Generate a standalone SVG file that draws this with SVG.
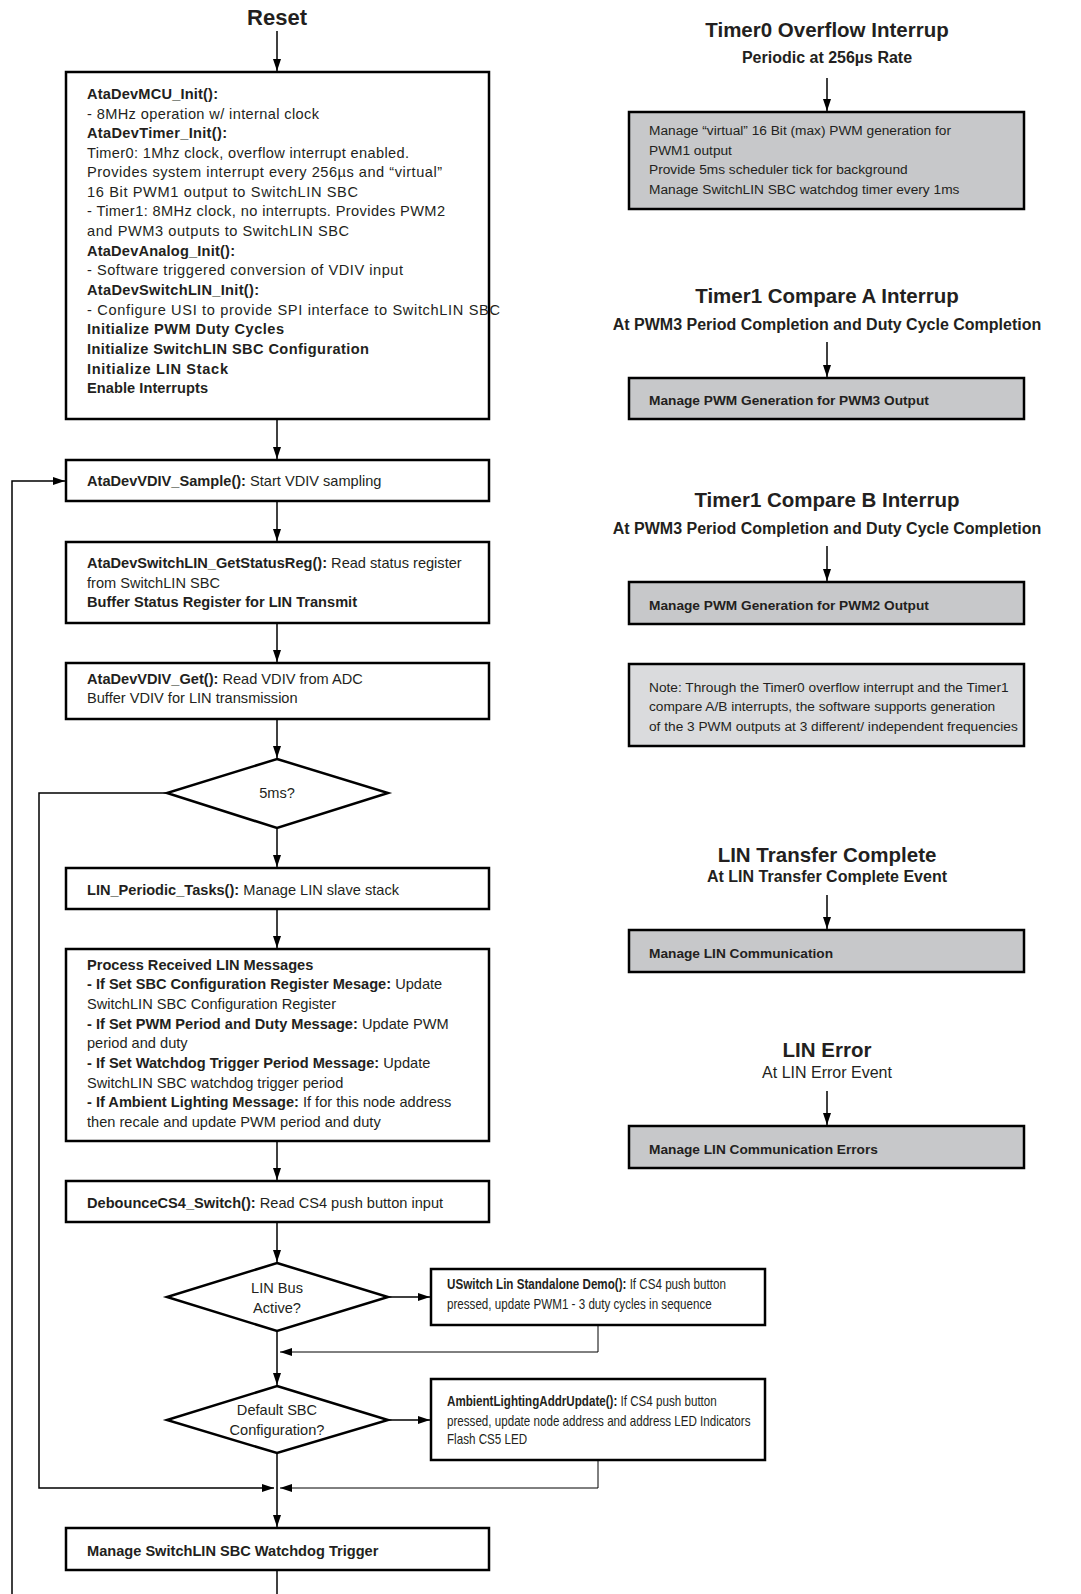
<svg xmlns="http://www.w3.org/2000/svg" width="1081" height="1594" viewBox="0 0 1081 1594">
<style>
text{font-family:"Liberation Sans",Arial,sans-serif;fill:#231f20}
.t{font-size:14.6px}
.r{font-size:13.7px}
.n{font-size:14px}
.b{font-weight:bold}
.h1{font-size:20.5px;font-weight:bold;text-anchor:middle}
.h2{font-size:16px;font-weight:bold;text-anchor:middle}
.box{fill:#fff;stroke:#000;stroke-width:2.5}
.gbox{fill:#c7c8ca;stroke:#000;stroke-width:2.5}
.nbox{fill:#dadbdd;stroke:#000;stroke-width:2.5}
.dia{fill:#fff;stroke:#000;stroke-width:2.5}
.c{fill:none;stroke:#000;stroke-width:1.5}
.c2{fill:none;stroke:#000;stroke-width:1}
</style>
<defs>
<marker id="ah" viewBox="0 0 12 8" refX="12" refY="4" markerWidth="12" markerHeight="8" markerUnits="userSpaceOnUse" orient="auto">
<path d="M0,0 L12,4 L0,8 z" fill="#000"/>
</marker>
</defs>
<rect width="1081" height="1594" fill="#fff"/>

<g id="connectors">
<path class="c" d="M277,31 V71" marker-end="url(#ah)"/>
<path class="c" d="M277,420 V459" marker-end="url(#ah)"/>
<path class="c" d="M277,502 V541" marker-end="url(#ah)"/>
<path class="c" d="M277,624 V662" marker-end="url(#ah)"/>
<path class="c" d="M277,720 V758" marker-end="url(#ah)"/>
<path class="c" d="M277,829 V867" marker-end="url(#ah)"/>
<path class="c" d="M277,910 V948" marker-end="url(#ah)"/>
<path class="c" d="M277,1142 V1180" marker-end="url(#ah)"/>
<path class="c" d="M277,1223 V1262" marker-end="url(#ah)"/>
<path class="c" d="M277,1332 V1385" marker-end="url(#ah)"/>
<path class="c" d="M277,1454 V1527" marker-end="url(#ah)"/>
<path class="c" d="M277,1571 V1594"/>
<path class="c" d="M388,1297 H430" marker-end="url(#ah)"/>
<path class="c" d="M388,1420 H430" marker-end="url(#ah)"/>
<path class="c2" d="M598,1326 V1352 H280" marker-end="url(#ah)"/>
<path class="c2" d="M598,1461 V1488 H280" marker-end="url(#ah)"/>
<path class="c" d="M167,793 H39 V1488 H274" marker-end="url(#ah)"/>
<path class="c" d="M12,1594 V481 H65" marker-end="url(#ah)"/>
<path class="c" d="M827,78 V111" marker-end="url(#ah)"/>
<path class="c" d="M827,342 V377" marker-end="url(#ah)"/>
<path class="c" d="M827,546 V581" marker-end="url(#ah)"/>
<path class="c" d="M827,895 V929" marker-end="url(#ah)"/>
<path class="c" d="M827,1091 V1125" marker-end="url(#ah)"/>
</g>

<g id="reset"><text x="277" y="25" text-anchor="middle" style="font-size:22px;font-weight:bold">Reset</text></g>

<g id="init">
<rect class="box" x="66" y="72" width="423" height="347"/>
<text class="t b" x="87" y="99" textLength="131" lengthAdjust="spacing">AtaDevMCU_Init():</text>
<text class="t" x="87" y="119" textLength="232" lengthAdjust="spacing">- 8MHz operation w/ internal clock</text>
<text class="t b" x="87" y="138" textLength="140" lengthAdjust="spacing">AtaDevTimer_Init():</text>
<text class="t" x="87" y="158" textLength="322" lengthAdjust="spacing">Timer0: 1Mhz clock, overflow interrupt enabled.</text>
<text class="t" x="87" y="177" textLength="355" lengthAdjust="spacing">Provides system interrupt every 256µs and “virtual”</text>
<text class="t" x="87" y="197" textLength="271" lengthAdjust="spacing">16 Bit PWM1 output to SwitchLIN SBC</text>
<text class="t" x="87" y="216" textLength="358" lengthAdjust="spacing">- Timer1: 8MHz clock, no interrupts. Provides PWM2</text>
<text class="t" x="87" y="236" textLength="262" lengthAdjust="spacing">and PWM3 outputs to SwitchLIN SBC</text>
<text class="t b" x="87" y="256" textLength="148" lengthAdjust="spacing">AtaDevAnalog_Init():</text>
<text class="t" x="87" y="275" textLength="316" lengthAdjust="spacing">- Software triggered conversion of VDIV input</text>
<text class="t b" x="87" y="295" textLength="172" lengthAdjust="spacing">AtaDevSwitchLIN_Init():</text>
<text class="t" x="87" y="315" textLength="413" lengthAdjust="spacing">- Configure USI to provide SPI interface to SwitchLIN SBC</text>
<text class="t b" x="87" y="334" textLength="197" lengthAdjust="spacing">Initialize PWM Duty Cycles</text>
<text class="t b" x="87" y="354" textLength="282" lengthAdjust="spacing">Initialize SwitchLIN SBC Configuration</text>
<text class="t b" x="87" y="374" textLength="141" lengthAdjust="spacing">Initialize LIN Stack</text>
<text class="t b" x="87" y="393" textLength="121" lengthAdjust="spacing">Enable Interrupts</text>
</g>

<g id="sample">
<rect class="box" x="66" y="460" width="423" height="41"/>
<text class="t" x="87" y="486"><tspan class="b">AtaDevVDIV_Sample():</tspan> Start VDIV sampling</text>
</g>

<g id="status">
<rect class="box" x="66" y="542" width="423" height="81"/>
<text class="t" x="87" y="568"><tspan class="b">AtaDevSwitchLIN_GetStatusReg():</tspan> Read status register</text>
<text class="t" x="87" y="588">from SwitchLIN SBC</text>
<text class="t b" x="87" y="607">Buffer Status Register for LIN Transmit</text>
</g>

<g id="vdivget">
<rect class="box" x="66" y="663" width="423" height="56"/>
<text class="t" x="87" y="684"><tspan class="b">AtaDevVDIV_Get():</tspan> Read VDIV from ADC</text>
<text class="t" x="87" y="703">Buffer VDIV for LIN transmission</text>
</g>

<g id="d5ms">
<polygon class="dia" points="277,759 388,793 277,828 167,793"/>
<text class="t" x="277" y="798" text-anchor="middle">5ms?</text>
</g>

<g id="linperiodic">
<rect class="box" x="66" y="868" width="423" height="41"/>
<text class="t" x="87" y="895"><tspan class="b">LIN_Periodic_Tasks():</tspan> Manage LIN slave stack</text>
</g>

<g id="process">
<rect class="box" x="66" y="949" width="423" height="192"/>
<text class="t b" x="87" y="970">Process Received LIN Messages</text>
<text class="t" x="87" y="989"><tspan class="b">- If Set SBC Configuration Register Mesage:</tspan> Update</text>
<text class="t" x="87" y="1009">SwitchLIN SBC Configuration Register</text>
<text class="t" x="87" y="1029"><tspan class="b">- If Set PWM Period and Duty Message:</tspan> Update PWM</text>
<text class="t" x="87" y="1048">period and duty</text>
<text class="t" x="87" y="1068"><tspan class="b">- If Set Watchdog Trigger Period Message:</tspan> Update</text>
<text class="t" x="87" y="1088">SwitchLIN SBC watchdog trigger period</text>
<text class="t" x="87" y="1107"><tspan class="b">- If Ambient Lighting Message:</tspan> If for this node address</text>
<text class="t" x="87" y="1127">then recale and update PWM period and duty</text>
</g>

<g id="debounce">
<rect class="box" x="66" y="1181" width="423" height="41"/>
<text class="t" x="87" y="1208"><tspan class="b">DebounceCS4_Switch():</tspan> Read CS4 push button input</text>
</g>

<g id="dlinbus">
<polygon class="dia" points="277,1263 388,1297 277,1331 167,1297"/>
<text class="t" x="277" y="1293" text-anchor="middle">LIN Bus</text>
<text class="t" x="277" y="1313" text-anchor="middle">Active?</text>
</g>

<g id="uswitch">
<rect class="box" x="431" y="1269" width="334" height="56"/>
<g transform="translate(447 0) scale(0.83 1)">
<text class="n" x="0" y="1289"><tspan class="b">USwitch Lin Standalone Demo():</tspan> If CS4 push button</text>
<text class="n" x="0" y="1309">pressed, update PWM1 - 3 duty cycles in sequence</text>
</g>
</g>

<g id="ddefault">
<polygon class="dia" points="277,1386 388,1420 277,1453 167,1420"/>
<text class="t" x="277" y="1415" text-anchor="middle">Default SBC</text>
<text class="t" x="277" y="1435" text-anchor="middle">Configuration?</text>
</g>

<g id="ambient">
<rect class="box" x="431" y="1379" width="334" height="81"/>
<g transform="translate(447 0) scale(0.83 1)">
<text class="n" x="0" y="1406"><tspan class="b">AmbientLightingAddrUpdate():</tspan> If CS4 push button</text>
<text class="n" x="0" y="1426">pressed, update node address and address LED Indicators</text>
<text class="n" x="0" y="1444">Flash CS5 LED</text>
</g>
</g>

<g id="watchdog">
<rect class="box" x="66" y="1528" width="423" height="42"/>
<text class="t b" x="87" y="1556">Manage SwitchLIN SBC Watchdog Trigger</text>
</g>

<g id="timer0">
<text class="h1" x="827" y="37">Timer0 Overflow Interrup</text>
<text class="h2" x="827" y="63">Periodic at 256µs Rate</text>
<rect class="gbox" x="629" y="112" width="395" height="97"/>
<text class="r" x="649" y="135">Manage “virtual” 16 Bit (max) PWM generation for</text>
<text class="r" x="649" y="155">PWM1 output</text>
<text class="r" x="649" y="174">Provide 5ms scheduler tick for background</text>
<text class="r" x="649" y="194">Manage SwitchLIN SBC watchdog timer every 1ms</text>
</g>

<g id="timer1a">
<text class="h1" x="827" y="303">Timer1 Compare A Interrup</text>
<text class="h2" x="827" y="330">At PWM3 Period Completion and Duty Cycle Completion</text>
<rect class="gbox" x="629" y="378" width="395" height="41"/>
<text class="r b" x="649" y="405">Manage PWM Generation for PWM3 Output</text>
</g>

<g id="timer1b">
<text class="h1" x="827" y="507">Timer1 Compare B Interrup</text>
<text class="h2" x="827" y="534">At PWM3 Period Completion and Duty Cycle Completion</text>
<rect class="gbox" x="629" y="582" width="395" height="42"/>
<text class="r b" x="649" y="610">Manage PWM Generation for PWM2 Output</text>
</g>

<g id="note">
<rect class="nbox" x="629" y="664" width="395" height="82"/>
<text class="r" x="649" y="692">Note: Through the Timer0 overflow interrupt and the Timer1</text>
<text class="r" x="649" y="711">compare A/B interrupts, the software supports generation</text>
<text class="r" x="649" y="731">of the 3 PWM outputs at 3 different/ independent frequencies</text>
</g>

<g id="lintransfer">
<text class="h1" x="827" y="862">LIN Transfer Complete</text>
<text class="h2" x="827" y="882">At LIN Transfer Complete Event</text>
<rect class="gbox" x="629" y="930" width="395" height="42"/>
<text class="r b" x="649" y="958">Manage LIN Communication</text>
</g>

<g id="linerror">
<text class="h1" x="827" y="1057">LIN Error</text>
<text x="827" y="1078" text-anchor="middle" style="font-size:16px">At LIN Error Event</text>
<rect class="gbox" x="629" y="1126" width="395" height="42"/>
<text class="r b" x="649" y="1154">Manage LIN Communication Errors</text>
</g>
</svg>
